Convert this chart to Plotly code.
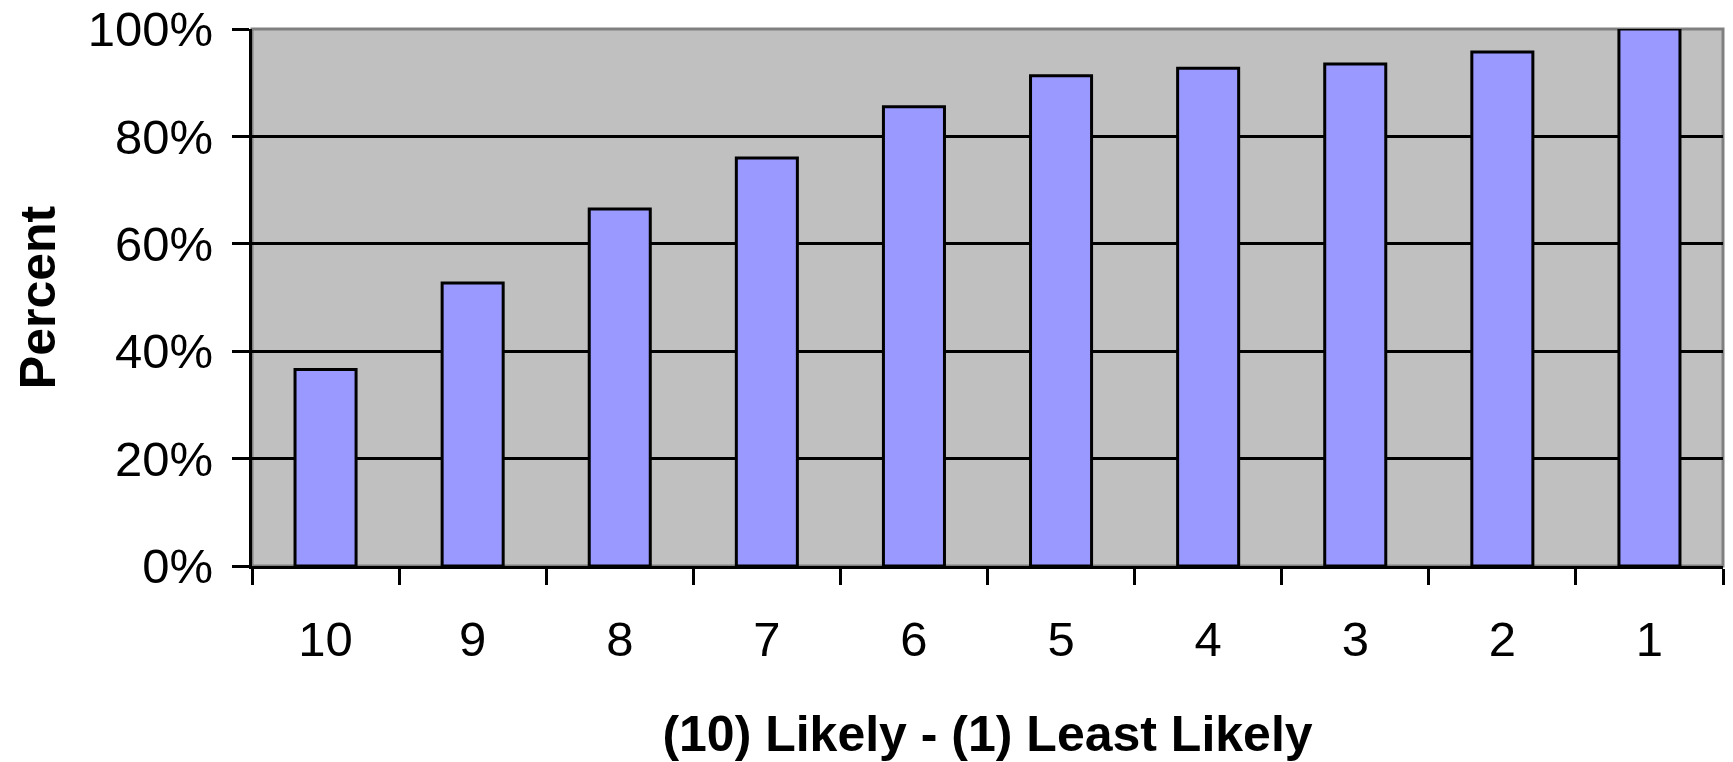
import plotly.graph_objects as go

# categories and values
categories = ["10", "9", "8", "7", "6", "5", "4", "3", "2", "1"]
percent = [0.366, 0.527, 0.665, 0.760, 0.855, 0.913, 0.927, 0.935, 0.957, 1.0]
y_ticks = [0, 0.2, 0.4, 0.6, 0.8, 1.0]
y_tick_text = ["0%", "20%", "40%", "60%", "80%", "100%"]

FONT = "Liberation Sans, Arial, sans-serif"


def printGraphic():
    fig = go.Figure(data=[
        go.Bar(x=categories, y=percent,
               marker=dict(color="#9999FF", line=dict(color="black", width=3)))
    ])

    fig.update_layout(
        width=1733, height=762,
        margin=dict(l=252, r=10, t=29, b=196),
        paper_bgcolor="white", plot_bgcolor="#C0C0C0",
        bargap=0.585, showlegend=False,
        font=dict(family=FONT, color="black", size=49),
    )

    fig.update_xaxes(
        type="category", automargin=False,
        showline=True, linecolor="black", linewidth=3,
        ticks="outside", tickson="boundaries", ticklen=16, tickwidth=3, tickcolor="black",
        tickfont=dict(size=49), ticklabelstandoff=28,
        title=dict(text="<b>(10) Likely - (1) Least Likely</b>", font=dict(size=50), standoff=55),
    )
    fig.update_yaxes(
        range=[0, 1], tickvals=y_ticks, ticktext=y_tick_text, automargin=False,
        showline=True, linecolor="black", linewidth=3,
        showgrid=True, gridcolor="black", gridwidth=3, zeroline=False,
        ticks="outside", ticklen=17, tickwidth=3, tickcolor="black",
        tickfont=dict(size=49), ticklabelstandoff=9,
        title=dict(text="<b>Percent</b>", font=dict(size=50), standoff=17),
    )

    # grey frame on top / right like the original
    fig.add_shape(type="rect", xref="paper", yref="paper", x0=0, x1=1, y0=0, y1=1,
                  line=dict(color="#808080", width=3), layer="between")

    # page body has a default 8px margin, drop it so the chart fills the window
    fig.write_html("out.html", config={"displayModeBar": False},
                   post_script="document.body.style.margin='0';")


if __name__ == '__main__':
    printGraphic()
